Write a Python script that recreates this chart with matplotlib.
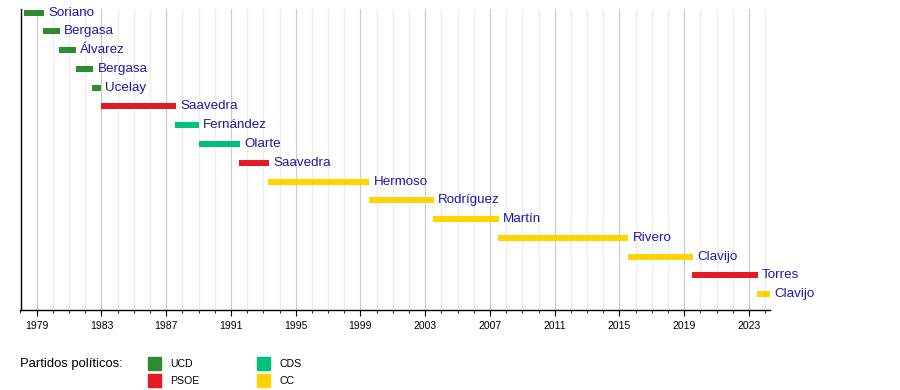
import matplotlib.pyplot as plt
from matplotlib.ticker import MultipleLocator
from matplotlib.patches import Rectangle

plt.rcParams['font.family'] = ['Liberation Sans', 'DejaVu Sans']

# presidents, in order, with start / end (decimal years) and party
names = ["Soriano", "Bergasa", "Álvarez", "Bergasa", "Ucelay", "Saavedra",
         "Fernández", "Olarte", "Saavedra", "Hermoso", "Rodríguez", "Martín",
         "Rivero", "Clavijo", "Torres", "Clavijo"]
starts = [1978.2, 1979.4, 1980.4, 1981.4, 1982.4, 1983.0,
          1987.55, 1989.0, 1991.5, 1993.3, 1999.5, 2003.5,
          2007.5, 2015.5, 2019.5, 2023.5]
ends = [1979.45, 1980.45, 1981.45, 1982.5, 1983.0, 1987.6,
        1989.0, 1991.55, 1993.35, 1999.55, 2003.55, 2007.55,
        2015.55, 2019.55, 2023.55, 2024.3]
parties = ["UCD", "UCD", "UCD", "UCD", "UCD", "PSOE",
           "CDS", "CDS", "PSOE", "CC", "CC", "CC",
           "CC", "CC", "PSOE", "CC"]

party_names = ["UCD", "PSOE", "CDS", "CC"]
party_colors = {"UCD": "#2e8b2e", "PSOE": "#e31b23", "CDS": "#00c07a", "CC": "#ffd400"}

fig = plt.figure(figsize=(9, 3.9), dpi=100)
ax = fig.add_axes([20.5 / 900, 1 - 310 / 390, (770 - 20.5) / 900, 300.5 / 390])

ax.set_xlim(1978, 2024.3)
ax.set_ylim(15.85, -0.17)

rows = list(range(len(names)))
widths = [e - s for s, e in zip(starts, ends)]
ax.barh(rows, widths, left=starts, height=0.32,
        color=[party_colors[p] for p in parties], zorder=3)
for r, e, n in zip(rows, ends, names):
    ax.text(e + 0.25, r, n, va="center", ha="left", fontsize=9.6,
            color="#1a1aa8", zorder=4)

ax.xaxis.set_major_locator(MultipleLocator(4))
ax.xaxis.set_minor_locator(MultipleLocator(1))
ax.set_xticks(range(1979, 2025, 4))
ax.grid(which="major", axis="x", color="#cccccc", lw=0.9, zorder=0)
ax.grid(which="minor", axis="x", color="#ededed", lw=0.9, zorder=0)
ax.set_yticks([])
ax.tick_params(axis="x", which="major", length=4, labelsize=7.5, pad=4)
ax.tick_params(axis="x", which="minor", length=2)
for s in ["top", "right"]:
    ax.spines[s].set_visible(False)
ax.spines["left"].set_linewidth(1)
ax.spines["bottom"].set_linewidth(1)

# legend
fig.text(20 / 900, 1 - 364 / 390, "Partidos políticos:", fontsize=9.4,
         va="center", ha="left")
legend_pos = [(148, 363), (148, 380), (257, 363), (257, 380)]
for p, (px, py) in zip(party_names, legend_pos):
    fig.patches.append(Rectangle((px / 900, 1 - (py + 6.5) / 390), 13 / 900, 13 / 390,
                                 transform=fig.transFigure, color=party_colors[p]))
    fig.text((px + 22) / 900, 1 - (py + 1) / 390, p, fontsize=7.6,
             va="center", ha="left")

fig.savefig("out.png", dpi=100)
